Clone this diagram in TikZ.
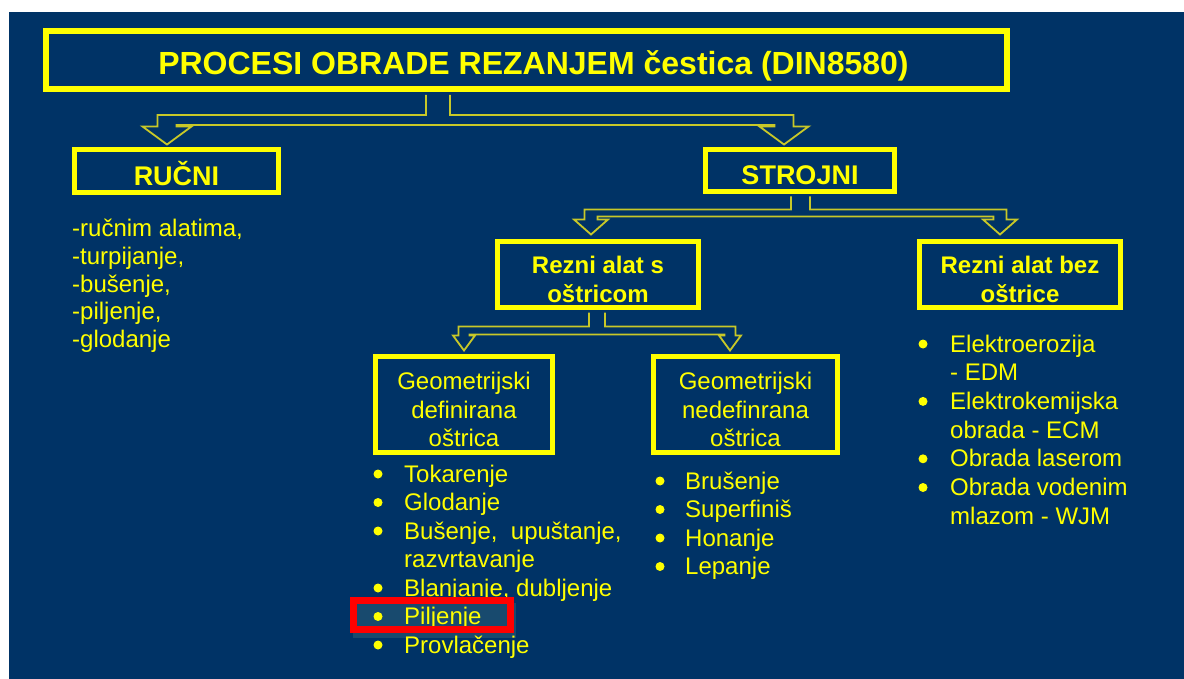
\documentclass[tikz,border=0pt]{standalone}
\usepackage{fontspec}
\setmainfont{Liberation Sans}
\usetikzlibrary{calc}

\definecolor{slideblue}{RGB}{0,51,102}
\definecolor{slideyellow}{RGB}{255,255,0}
\definecolor{forkyellow}{RGB}{200,200,40}
\definecolor{marklight}{RGB}{24,74,110}
\definecolor{markred}{RGB}{255,0,0}

\tikzset{ybox/.style={draw=slideyellow, line width=5pt, inner sep=0pt},
 ytext/.style={text=slideyellow, inner sep=0pt, align=center},
 headtext/.style={ytext, font=\bfseries\fontsize{32}{38}\selectfont},
 maintext/.style={ytext, font=\bfseries\fontsize{27}{32}\selectfont},
 tooltext/.style={ytext, font=\bfseries\fontsize{24}{29}\selectfont},
 kindtext/.style={ytext, font=\fontsize{24}{28.5}\selectfont},
 listtext/.style={text=slideyellow, inner sep=0pt, anchor=base west, font=\fontsize{24}{28.5}\selectfont},
 forkline/.style={draw=forkyellow, line width=1.8pt, line join=miter},
 dotmark/.style={fill=slideyellow},
 }

% stem, left tip, right tip, drop, bar, stem half, shaft half, head half, head length
\newcommand\hollowfork[9]{%
  \draw[forkline] let \p1=(#1), \p2=(#2), \p3=(#3),
    \n1={\y1-#4pt}, \n2={\y1-#4pt-#5pt}, \n3={\y2+#9pt} in
    (\x1-#6pt,\y1) -- (\x1-#6pt,\n1) -- (\x2-#7pt,\n1) -- (\x2-#7pt,\n3)
    -- (\x2-#8pt,\n3) -- (\x2,\y2) -- (\x2+#8pt,\n3) -- (\x2+#7pt,\n3)
    -- (\x2+#7pt,\n2) -- (\x3-#7pt,\n2) -- (\x3-#7pt,\n3) -- (\x3-#8pt,\n3)
    -- (\x3,\y3) -- (\x3+#8pt,\n3) -- (\x3+#7pt,\n3) -- (\x3+#7pt,\n1)
    -- (\x1+#6pt,\n1) -- (\x1+#6pt,\y1);}

\begin{document}
\begin{tikzpicture}[x=1pt,y=-1pt]
        \useasboundingbox (0,0) rectangle (1184,679);
        \fill[slideblue] (9,12) rectangle (1184,679);

        % boxes
        \node[ybox, line width=6pt, minimum width=961, minimum height=58] (title) at (526.5,60) {};
        \node[ybox, minimum width=204, minimum height=43] (ruc) at (176.5,171) {};
        \node[ybox, minimum width=189, minimum height=42] (str) at (800,170.5) {};
        \node[ybox, minimum width=201, minimum height=66] (rsa) at (598,274.5) {};
        \node[ybox, minimum width=201, minimum height=66] (rbo) at (1020,274.5) {};
        \node[ybox, minimum width=177, minimum height=96] (gdo) at (464,404.5) {};
        \node[ybox, minimum width=184, minimum height=96] (gno) at (745.5,404.5) {};

        % box texts
        \node[headtext] (title-t) at ([xshift=7pt,yshift=-6pt]title.center) {PROCESI OBRADE REZANJEM čestica (DIN8580)};
        \node[maintext] (ruc-t) at ([yshift=-3pt]ruc.center) {RUČNI};
        \node[maintext] (str-t) at ([yshift=-5pt]str.center) {STROJNI};
        \node[tooltext] (rsa-t) at ([yshift=-5pt]rsa.center) {Rezni alat s\\oštricom};
        \node[tooltext] (rbo-t) at ([yshift=-5pt]rbo.center) {Rezni alat bez\\oštrice};
        \node[kindtext] (gdo-t) at ([yshift=-5pt]gdo.center) {Geometrijski\\definirana\\oštrica};
        \node[kindtext] (gno-t) at ([yshift=-5pt]gno.center) {Geometrijski\\nedefinrana\\oštrica};

        \hollowfork{$(title.south)+(-88.5,3)$}{$(ruc.north)+(-9.5,-2.5)$}{$(str.north)+(-16,-2.5)$}{20}{10}{12}{9.5}{24.5}{18}
        \hollowfork{$(str.south)+(0.5,2.5)$}{$(rsa.north)+(-7,-4.5)$}{$(rbo.north)+(-20,-4.5)$}{13}{7}{9.5}{6.5}{17}{15}
        \hollowfork{$(rsa.south)+(-1,2.5)$}{$(gdo.north)+(0,-3.5)$}{$(gno.north)+(-15.5,-3.5)$}{14}{8}{8}{5.5}{11}{15}

        \fill[marklight] (353,603) rectangle (516,638);

        \foreach \t [count=\i] in {{-ručnim alatima,},{-turpijanje,},{-bušenje,},{-piljenje,},{-glodanje}}
            \node[listtext] (ruc-\i) at (72,{237+27.5*(\i-1)}) {\t};

        \foreach \b/\t [count=\i] in {1/Tokarenje, 1/Glodanje, 1/{Bušenje,\ \ upuštanje,}, 0/razvrtavanje,
                1/{Blanjanje, dubljenje}, 1/Piljenje, 1/Provlačenje} {
            \node[listtext] (gdo-\i) at (404,{482+28.5*(\i-1)}) {\t};
            \ifnum\b=1 \fill[dotmark] (378,{482+28.5*(\i-1)-8}) circle (4.5); \fi
        }

        \foreach \b/\t [count=\i] in {1/Brušenje, 1/Superfiniš, 1/Honanje, 1/Lepanje} {
            \node[listtext] (gno-\i) at (685,{489+28.5*(\i-1)}) {\t};
            \ifnum\b=1 \fill[dotmark] (660,{489+28.5*(\i-1)-8}) circle (4.5); \fi
        }

        \foreach \b/\t [count=\i] in {1/Elektroerozija, 0/{- EDM}, 1/Elektrokemijska, 0/{obrada - ECM},
                1/{Obrada laserom}, 1/{Obrada vodenim}, 0/{mlazom - WJM}} {
            \node[listtext] (rbo-\i) at (950,{352+28.7*(\i-1)}) {\t};
            \ifnum\b=1 \fill[dotmark] (923,{352+28.7*(\i-1)-8}) circle (4.5); \fi
        }

        \draw[markred, line width=7pt] (353.5,600.5) rectangle (510.5,629.5);
\end{tikzpicture}
\end{document}
